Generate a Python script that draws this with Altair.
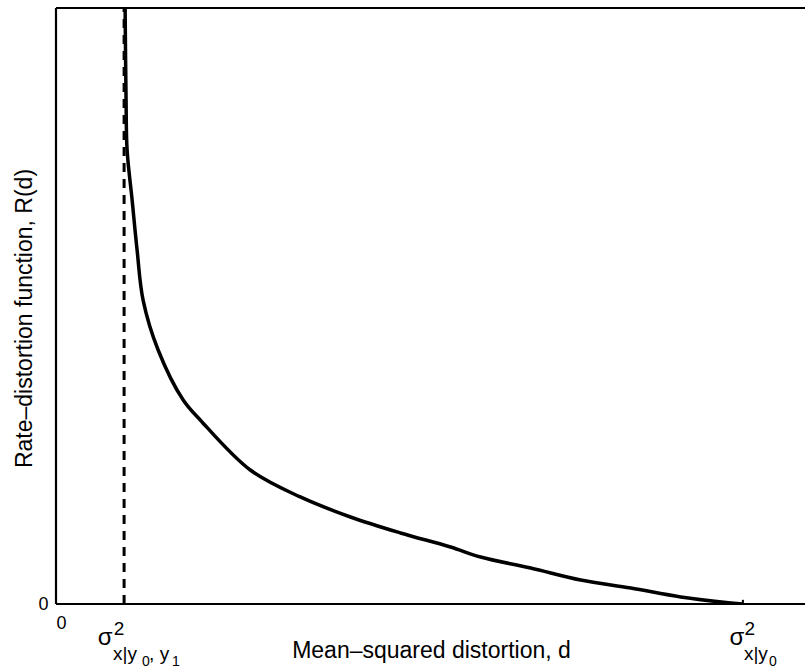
import altair as alt
import pandas as pd

# values
d_vals = [1.015, 1.029, 1.044, 1.118, 1.191, 1.279, 1.500, 1.868, 2.118, 2.853,
          3.588, 4.324, 5.059, 5.794, 6.235, 6.971, 7.706, 8.441, 9.176, 9.912, 10.088]
r_vals = [5.0, 4.228, 3.809, 3.389, 2.970, 2.550, 2.131, 1.711, 1.544, 1.124,
          0.898, 0.730, 0.596, 0.478, 0.394, 0.302, 0.201, 0.134, 0.059, 0.008, 0.0]
sigma1 = 1.0     # sigma^2_{x|y0,y1}
sigma0 = 10.088  # sigma^2_{x|y0}
x_max = 11.0
y_max = 5.0

FONT = "Liberation Sans"

curve = pd.DataFrame({"d": d_vals, "R": r_vals})
xs = alt.Scale(domain=[0, x_max], nice=False, zero=False)
ys = alt.Scale(domain=[0, y_max], nice=False, zero=False)

base_x = alt.X("d:Q", scale=xs,
               axis=alt.Axis(values=[0], format="d", title="Mean\u2013squared distortion, d",
                             domain=False, ticks=False, grid=False,
                             labelFontSize=18, labelFont=FONT, labelColor="black",
                             labelPadding=10,
                             titleFont=FONT, titleFontSize=23, titleFontWeight="normal",
                             titleColor="black", titleBaseline="alphabetic",
                             titleX=375, titleY=53))
base_y = alt.Y("R:Q", scale=ys,
               axis=alt.Axis(values=[0], format="d", title="Rate\u2013distortion function, R(d)",
                             domain=False, ticks=False, grid=False,
                             labelFontSize=18, labelFont=FONT, labelColor="black",
                             labelPadding=8,
                             titleFont=FONT, titleFontSize=23, titleFontWeight="normal",
                             titleColor="black", titleBaseline="alphabetic",
                             titleX=-25, titleY=310, titleAngle=270))

line = alt.Chart(curve).mark_line(color="black", strokeWidth=3.5, clip=True,
                                  interpolate="catmull-rom").encode(x=base_x, y=base_y)

dash_df = pd.DataFrame({"d": [sigma1], "R": [0.0], "R2": [y_max]})
dash = alt.Chart(dash_df).mark_rule(color="black", strokeWidth=3,
                                    strokeDash=[9, 7]).encode(
    x=alt.X("d:Q", scale=xs), y=alt.Y("R:Q", scale=ys), y2="R2:Q")

tick_df = pd.DataFrame({"d": [sigma0], "R": [0.0], "R2": [0.035]})
tick = alt.Chart(tick_df).mark_rule(color="black", strokeWidth=2).encode(
    x=alt.X("d:Q", scale=xs), y=alt.Y("R:Q", scale=ys), y2="R2:Q")

# frame: left, top and bottom edges (right edge lies outside the picture)
hframe = alt.Chart(pd.DataFrame({"d": [0.0, 0.0], "d2": [x_max, x_max],
                                 "R": [0.0, y_max]})).mark_rule(
    color="black", strokeWidth=2.2).encode(
    x=alt.X("d:Q", scale=xs), x2="d2:Q", y=alt.Y("R:Q", scale=ys))
vframe = alt.Chart(pd.DataFrame({"d": [0.0], "R": [0.0], "R2": [y_max]})).mark_rule(
    color="black", strokeWidth=2.2).encode(
    x=alt.X("d:Q", scale=xs), y=alt.Y("R:Q", scale=ys), y2="R2:Q")

# label pieces: (anchor d, text, size, align, dx, dy)
pieces = [
    (sigma1, "\u03c3", 24, "center", -19, 41),
    (sigma1, "2", 19, "center", -5, 31),
    (sigma1, "x|y", 19, "left", -11, 56),
    (sigma1, "0", 14, "left", 18, 62),
    (sigma1, ", y", 19, "left", 25, 56),
    (sigma1, "1", 14, "left", 48, 62),
    (sigma0, "\u03c3", 24, "center", -6, 41),
    (sigma0, "2", 19, "center", 7, 31),
    (sigma0, "x|y", 19, "left", 1, 56),
    (sigma0, "0", 14, "left", 26, 62),
]
label_layers = []
for dv, txt, size, align, dx, dy in pieces:
    df = pd.DataFrame({"d": [dv], "R": [0.0], "t": [txt]})
    label_layers.append(
        alt.Chart(df).mark_text(font=FONT, fontSize=size, align=align,
                                baseline="alphabetic", dx=dx, dy=dy,
                                color="black", clip=False).encode(
            x=alt.X("d:Q", scale=xs), y=alt.Y("R:Q", scale=ys), text="t:N"))

chart = alt.layer(line, dash, tick, hframe, vframe, *label_layers).properties(
    width=749, height=596,
    autosize=alt.AutoSizeParams(type="none"),
    padding={"left": 56, "top": 8, "right": 0, "bottom": 67},
    background="white",
).configure_view(stroke=None)

chart.save("out.html", embed_options={"renderer": "svg", "actions": False})
